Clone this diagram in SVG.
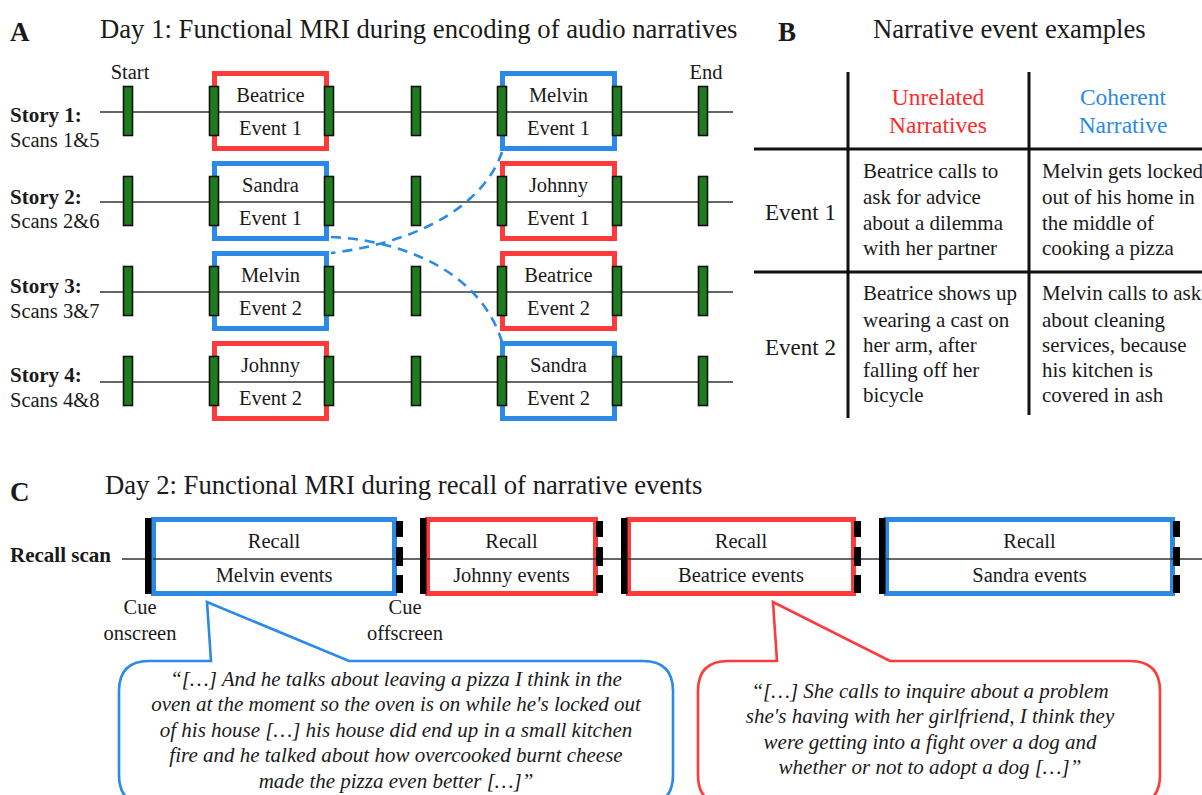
<svg xmlns="http://www.w3.org/2000/svg" width="1202" height="795" viewBox="0 0 1202 795">
<defs>
<style>
text{font-family:"Liberation Serif","Times New Roman",serif;fill:#1a1a1a}
.h{font-size:26.7px}
.lbl{font-size:27px;font-weight:bold}
.t{font-size:20.5px}
.b{font-size:21px;font-weight:bold}
.c{text-anchor:middle}
.tl{stroke:#333;stroke-width:1.6;fill:none}
.g{fill:#1e7b1e;stroke:#111;stroke-width:1.6}
.red{fill:#fff;stroke:#ff3a3a;stroke-width:5}
.blue{fill:#fff;stroke:#2a8ae6;stroke-width:5}
.dash{fill:none;stroke:#2a8ae6;stroke-width:2.6;stroke-dasharray:10 7}
.grid{stroke:#111;stroke-width:3;fill:none}
.cell{font-size:21px}
.hd{font-size:23.5px}
.ev{font-size:23px}
.blk{fill:#000}
.q{font-size:21px;font-style:italic}
</style>
</defs>

<!-- Panel headings -->
<text class="lbl" x="10" y="41">A</text>
<text class="h" x="100" y="38">Day 1: Functional MRI during encoding of audio narratives</text>
<text class="lbl" x="778" y="41">B</text>
<text class="h" x="873" y="38">Narrative event examples</text>
<text class="lbl" x="10" y="501">C</text>
<text class="h" x="105" y="494">Day 2: Functional MRI during recall of narrative events</text>

<!-- Connectors: timelines and dashed links -->
<g id="connectors">
  <line class="tl" x1="100" y1="112" x2="733" y2="112"/>
  <line class="tl" x1="100" y1="202" x2="733" y2="202"/>
  <line class="tl" x1="100" y1="292" x2="733" y2="292"/>
  <line class="tl" x1="100" y1="382" x2="733" y2="382"/>
  <line class="tl" x1="122" y1="559" x2="1202" y2="559"/>
  <path class="dash" d="M502 152 C480 215 400 245 331 253"/>
  <path class="dash" d="M331 237 C400 240 480 270 502 342"/>
</g>

<!-- Start / End -->
<text class="t c" x="130" y="79">Start</text>
<text class="t c" x="706" y="79">End</text>

<!-- Story labels -->
<g id="story-labels">
  <text class="b" x="10" y="122">Story 1:</text>
  <text class="t" x="10" y="147">Scans 1&amp;5</text>
  <text class="b" x="10" y="204">Story 2:</text>
  <text class="t" x="10" y="228">Scans 2&amp;6</text>
  <text class="b" x="10" y="293">Story 3:</text>
  <text class="t" x="10" y="318">Scans 3&amp;7</text>
  <text class="b" x="10" y="382">Story 4:</text>
  <text class="t" x="10" y="407">Scans 4&amp;8</text>
</g>

<!-- Event boxes (panel A) -->
<g id="box-beatrice-1">
  <rect class="red" x="214.5" y="73.5" width="112" height="75"/>
  <line class="tl" x1="214" y1="112" x2="327" y2="112"/>
  <text class="t c" x="270.5" y="102">Beatrice</text>
  <text class="t c" x="270.5" y="135">Event 1</text>
</g>
<g id="box-melvin-1">
  <rect class="blue" x="502.5" y="73.5" width="112" height="75"/>
  <line class="tl" x1="502" y1="112" x2="615" y2="112"/>
  <text class="t c" x="558.5" y="102">Melvin</text>
  <text class="t c" x="558.5" y="135">Event 1</text>
</g>
<g id="box-sandra-1">
  <rect class="blue" x="214.5" y="163.5" width="112" height="75"/>
  <line class="tl" x1="214" y1="202" x2="327" y2="202"/>
  <text class="t c" x="270.5" y="192">Sandra</text>
  <text class="t c" x="270.5" y="225">Event 1</text>
</g>
<g id="box-johnny-1">
  <rect class="red" x="502.5" y="163.5" width="112" height="75"/>
  <line class="tl" x1="502" y1="202" x2="615" y2="202"/>
  <text class="t c" x="558.5" y="192">Johnny</text>
  <text class="t c" x="558.5" y="225">Event 1</text>
</g>
<g id="box-melvin-2">
  <rect class="blue" x="214.5" y="253.5" width="112" height="75"/>
  <line class="tl" x1="214" y1="292" x2="327" y2="292"/>
  <text class="t c" x="270.5" y="282">Melvin</text>
  <text class="t c" x="270.5" y="315">Event 2</text>
</g>
<g id="box-beatrice-2">
  <rect class="red" x="502.5" y="253.5" width="112" height="75"/>
  <line class="tl" x1="502" y1="292" x2="615" y2="292"/>
  <text class="t c" x="558.5" y="282">Beatrice</text>
  <text class="t c" x="558.5" y="315">Event 2</text>
</g>
<g id="box-johnny-2">
  <rect class="red" x="214.5" y="343.5" width="112" height="75"/>
  <line class="tl" x1="214" y1="382" x2="327" y2="382"/>
  <text class="t c" x="270.5" y="372">Johnny</text>
  <text class="t c" x="270.5" y="405">Event 2</text>
</g>
<g id="box-sandra-2">
  <rect class="blue" x="502.5" y="343.5" width="112" height="75"/>
  <line class="tl" x1="502" y1="382" x2="615" y2="382"/>
  <text class="t c" x="558.5" y="372">Sandra</text>
  <text class="t c" x="558.5" y="405">Event 2</text>
</g>

<!-- Green markers -->
<g id="markers">
  <g id="row1-markers">
    <rect class="g" x="123.5" y="86.5" width="9" height="49"/>
    <rect class="g" x="209.5" y="86.5" width="9" height="49"/>
    <rect class="g" x="324.5" y="86.5" width="9" height="49"/>
    <rect class="g" x="411.5" y="86.5" width="9" height="49"/>
    <rect class="g" x="497.5" y="86.5" width="9" height="49"/>
    <rect class="g" x="612.5" y="86.5" width="9" height="49"/>
    <rect class="g" x="698.5" y="86.5" width="9" height="49"/>
  </g>
  <g id="row2-markers">
    <rect class="g" x="123.5" y="176.5" width="9" height="49"/>
    <rect class="g" x="209.5" y="176.5" width="9" height="49"/>
    <rect class="g" x="324.5" y="176.5" width="9" height="49"/>
    <rect class="g" x="411.5" y="176.5" width="9" height="49"/>
    <rect class="g" x="497.5" y="176.5" width="9" height="49"/>
    <rect class="g" x="612.5" y="176.5" width="9" height="49"/>
    <rect class="g" x="698.5" y="176.5" width="9" height="49"/>
  </g>
  <g id="row3-markers">
    <rect class="g" x="123.5" y="266.5" width="9" height="49"/>
    <rect class="g" x="209.5" y="266.5" width="9" height="49"/>
    <rect class="g" x="324.5" y="266.5" width="9" height="49"/>
    <rect class="g" x="411.5" y="266.5" width="9" height="49"/>
    <rect class="g" x="497.5" y="266.5" width="9" height="49"/>
    <rect class="g" x="612.5" y="266.5" width="9" height="49"/>
    <rect class="g" x="698.5" y="266.5" width="9" height="49"/>
  </g>
  <g id="row4-markers">
    <rect class="g" x="123.5" y="356.5" width="9" height="49"/>
    <rect class="g" x="209.5" y="356.5" width="9" height="49"/>
    <rect class="g" x="324.5" y="356.5" width="9" height="49"/>
    <rect class="g" x="411.5" y="356.5" width="9" height="49"/>
    <rect class="g" x="497.5" y="356.5" width="9" height="49"/>
    <rect class="g" x="612.5" y="356.5" width="9" height="49"/>
    <rect class="g" x="698.5" y="356.5" width="9" height="49"/>
  </g>
</g>

<!-- Panel B table -->
<g id="table">
  <line class="grid" x1="848" y1="72" x2="848" y2="418"/>
  <line class="grid" x1="1029" y1="72" x2="1029" y2="415"/>
  <line class="grid" x1="754" y1="149" x2="1202" y2="149"/>
  <line class="grid" x1="754" y1="272" x2="1202" y2="272"/>
  <text class="hd c" x="938" y="105" style="fill:#ff2a2a">Unrelated</text>
  <text class="hd c" x="938" y="133" style="fill:#ff2a2a">Narratives</text>
  <text class="hd c" x="1123" y="105" style="fill:#2a8ae6">Coherent</text>
  <text class="hd c" x="1123" y="133" style="fill:#2a8ae6">Narrative</text>
  <text class="ev" x="765" y="220">Event 1</text>
  <text class="ev" x="765" y="355">Event 2</text>
  <text class="cell" x="863" y="178">Beatrice calls to</text>
  <text class="cell" x="863" y="204">ask for advice</text>
  <text class="cell" x="863" y="230">about a dilemma</text>
  <text class="cell" x="863" y="255">with her partner</text>
  <text class="cell" x="1042" y="178">Melvin gets locked</text>
  <text class="cell" x="1042" y="204">out of his home in</text>
  <text class="cell" x="1042" y="230">the middle of</text>
  <text class="cell" x="1042" y="255">cooking a pizza</text>
  <text class="cell" x="863" y="300">Beatrice shows up</text>
  <text class="cell" x="863" y="327">wearing a cast on</text>
  <text class="cell" x="863" y="352">her arm, after</text>
  <text class="cell" x="863" y="377">falling off her</text>
  <text class="cell" x="863" y="402">bicycle</text>
  <text class="cell" x="1042" y="300">Melvin calls to ask</text>
  <text class="cell" x="1042" y="327">about cleaning</text>
  <text class="cell" x="1042" y="352">services, because</text>
  <text class="cell" x="1042" y="377">his kitchen is</text>
  <text class="cell" x="1042" y="402">covered in ash</text>
</g>

<!-- Panel C -->
<text class="b" x="10" y="562">Recall scan</text>
<g id="recall-melvin">
  <rect class="blue" x="153.5" y="519.5" width="241" height="74"/>
  <line class="tl" x1="153" y1="559" x2="395" y2="559"/>
  <rect class="blk" x="145" y="518" width="6.5" height="76"/>
  <rect class="blk" x="396" y="521" width="7" height="16"/>
  <rect class="blk" x="396" y="547" width="7" height="19"/>
  <rect class="blk" x="396" y="575" width="7" height="18"/>
  <text class="t c" x="274" y="548">Recall</text>
  <text class="t c" x="274" y="582">Melvin events</text>
</g>
<g id="recall-johnny">
  <rect class="red" x="427.5" y="519.5" width="168" height="74"/>
  <line class="tl" x1="427" y1="559" x2="596" y2="559"/>
  <rect class="blk" x="420" y="518" width="6.5" height="76"/>
  <rect class="blk" x="596" y="521" width="7" height="16"/>
  <rect class="blk" x="596" y="547" width="7" height="19"/>
  <rect class="blk" x="596" y="575" width="7" height="18"/>
  <text class="t c" x="511.5" y="548">Recall</text>
  <text class="t c" x="511.5" y="582">Johnny events</text>
</g>
<g id="recall-beatrice">
  <rect class="red" x="628.5" y="519.5" width="225" height="74"/>
  <line class="tl" x1="628" y1="559" x2="854" y2="559"/>
  <rect class="blk" x="621" y="518" width="6.5" height="76"/>
  <rect class="blk" x="854" y="521" width="7" height="16"/>
  <rect class="blk" x="854" y="547" width="7" height="19"/>
  <rect class="blk" x="854" y="575" width="7" height="18"/>
  <text class="t c" x="741" y="548">Recall</text>
  <text class="t c" x="741" y="582">Beatrice events</text>
</g>
<g id="recall-sandra">
  <rect class="blue" x="886.5" y="519.5" width="286" height="74"/>
  <line class="tl" x1="886" y1="559" x2="1173" y2="559"/>
  <rect class="blk" x="879" y="518" width="6.5" height="76"/>
  <rect class="blk" x="1173" y="521" width="7" height="16"/>
  <rect class="blk" x="1173" y="547" width="7" height="19"/>
  <rect class="blk" x="1173" y="575" width="7" height="18"/>
  <text class="t c" x="1029.5" y="548">Recall</text>
  <text class="t c" x="1029.5" y="582">Sandra events</text>
</g>

<text class="t c" x="140" y="614">Cue</text>
<text class="t c" x="140" y="640">onscreen</text>
<text class="t c" x="405" y="614">Cue</text>
<text class="t c" x="405" y="640">offscreen</text>

<!-- Speech bubbles -->
<g id="bubble-melvin">
  <path d="M211 661 L207 602 L349 661 L643 661 Q673 661 673 691 L673 775 Q673 805 643 805 L149 805 Q119 805 119 775 L119 691 Q119 661 149 661 Z" fill="#fff" stroke="#2a8ae6" stroke-width="2.6" stroke-linejoin="miter"/>
  <text class="q c" x="396" y="686">“[…] And he talks about leaving a pizza I think in the</text>
  <text class="q c" x="396" y="711">oven at the moment so the oven is on while he's locked out</text>
  <text class="q c" x="396" y="737">of his house […] his house did end up in a small kitchen</text>
  <text class="q c" x="396" y="762">fire and he talked about how overcooked burnt cheese</text>
  <text class="q c" x="396" y="788">made the pizza even better […]”</text>
</g>
<g id="bubble-beatrice">
  <path d="M777 661 L773 602 L890 661 L1130 661 Q1160 661 1160 691 L1160 775 Q1160 805 1130 805 L728 805 Q698 805 698 775 L698 691 Q698 661 728 661 Z" fill="#fff" stroke="#ff3a3a" stroke-width="2.6"/>
  <text class="q c" x="930" y="698">“[…] She calls to inquire about a problem</text>
  <text class="q c" x="930" y="723">she's having with her girlfriend, I think they</text>
  <text class="q c" x="930" y="749">were getting into a fight over a dog and</text>
  <text class="q c" x="930" y="774">whether or not to adopt a dog […]”</text>
</g>
</svg>
